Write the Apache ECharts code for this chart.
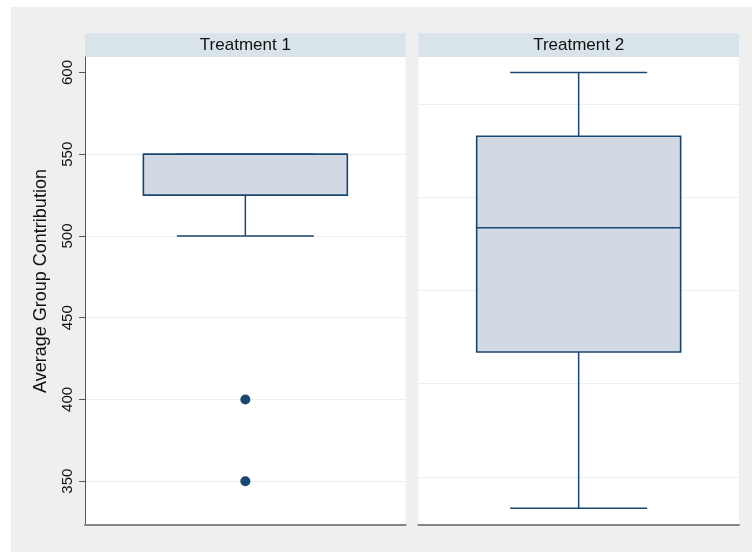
<!DOCTYPE html>
<html>
<head>
<meta charset="utf-8">
<script src="https://cdn.jsdelivr.net/npm/echarts@6/dist/echarts.min.js"></script>
<style>
  html, body { margin: 0; padding: 0; background: #fff; }
  #chart { width: 752px; height: 552px; }
</style>
</head>
<body>
<div id="chart"></div>
<script>
// Panel titles
const panels = ['Treatment 1', 'Treatment 2'];
const yTitle = 'Average Group Contribution';
// Box summaries: [lower whisker, Q1, median, Q3, upper whisker]
const boxT1 = [500, 525, 550, 550, 550];
const boxT2 = [333.5, 429, 505, 561, 600];
// Points beyond the whiskers
const outliersT1 = [400, 350];
// Y axis tick labels (left panel)
const yTicks = [350, 400, 450, 500, 550, 600];
// Horizontal reference lines in each panel
const gridLinesT1 = [350, 400, 450, 500, 550];
const gridLinesT2 = [352.6, 409.7, 466.7, 523.8, 580.8];

const Y_MIN = 323.5, Y_MAX = 609.5;
const NAVY = '#1a476f';
const BOX_FILL = '#d2d9e2';
const GRID_LINE = '#e9f0f2';
const STRIP = '#d8e4ea';
const FONT = '"Liberation Sans", Arial, Helvetica, sans-serif';

const PLOT_TOP = 57, PLOT_H = 467.5, PLOT_W = 320.7;
const LEFT1 = 85, LEFT2 = 418.3;

function renderBox(params, api) {
  const x = api.value(0);
  const lo = api.coord([x, api.value(1)]);
  const q1 = api.coord([x, api.value(2)]);
  const md = api.coord([x, api.value(3)]);
  const q3 = api.coord([x, api.value(4)]);
  const hi = api.coord([x, api.value(5)]);
  const band = api.size([1, 0])[0];
  const bw = band * 0.636, cw = band * 0.427;
  const cx = md[0];
  const ls = { stroke: NAVY, lineWidth: 1.5, fill: null };
  return {
    type: 'group',
    children: [
      { type: 'line', shape: { x1: cx, y1: hi[1], x2: cx, y2: q3[1] }, style: ls },
      { type: 'line', shape: { x1: cx, y1: q1[1], x2: cx, y2: lo[1] }, style: ls },
      { type: 'line', shape: { x1: cx - cw / 2, y1: hi[1], x2: cx + cw / 2, y2: hi[1] }, style: ls },
      { type: 'line', shape: { x1: cx - cw / 2, y1: lo[1], x2: cx + cw / 2, y2: lo[1] }, style: ls },
      { type: 'rect', shape: { x: cx - bw / 2, y: q3[1], width: bw, height: q1[1] - q3[1] },
        style: { fill: BOX_FILL, stroke: NAVY, lineWidth: 1.6 } },
      { type: 'line', shape: { x1: cx - bw / 2, y1: md[1], x2: cx + bw / 2, y2: md[1] },
        style: { stroke: NAVY, lineWidth: 1.6 } }
    ]
  };
}

function refLines(values) {
  return {
    silent: true,
    z: 0,
    symbol: 'none',
    label: { show: false },
    lineStyle: { color: GRID_LINE, width: 1, type: 'solid' },
    emphasis: { disabled: true },
    animation: false,
    data: values.map(v => ({ yAxis: v }))
  };
}

const chart = echarts.init(document.getElementById('chart'), null, { renderer: 'canvas' });

const option = {
  animation: false,
  backgroundColor: '#ffffff',
  graphic: [
    { type: 'rect', z: -100, shape: { x: 11, y: 7, width: 741, height: 545 }, style: { fill: '#efefef' } },
    { type: 'rect', shape: { x: LEFT1, y: 33.3, width: PLOT_W, height: 23.7 }, style: { fill: STRIP } },
    { type: 'rect', shape: { x: LEFT2, y: 33.3, width: PLOT_W, height: 23.7 }, style: { fill: STRIP } },
    { type: 'text', x: LEFT1 + PLOT_W / 2, y: 45.3,
      style: { text: panels[0], fill: '#111', font: '17px ' + FONT, align: 'center', verticalAlign: 'middle' } },
    { type: 'text', x: LEFT2 + PLOT_W / 2, y: 45.3,
      style: { text: panels[1], fill: '#111', font: '17px ' + FONT, align: 'center', verticalAlign: 'middle' } },
    { type: 'text', x: 41, y: 281, rotation: Math.PI / 2,
      style: { text: yTitle, fill: '#111', font: '18px ' + FONT, align: 'center', verticalAlign: 'middle' } }
  ],
  grid: [
    { left: LEFT1, top: PLOT_TOP, width: PLOT_W, height: PLOT_H, show: true, backgroundColor: '#fff', borderWidth: 0, containLabel: false },
    { left: LEFT2, top: PLOT_TOP, width: PLOT_W, height: PLOT_H, show: true, backgroundColor: '#fff', borderWidth: 0, containLabel: false }
  ],
  xAxis: [0, 1].map(i => ({
    type: 'category',
    gridIndex: i,
    data: [panels[i]],
    boundaryGap: true,
    axisLine: { show: true, lineStyle: { color: '#858585', width: 2 } },
    axisTick: { show: false },
    axisLabel: { show: false },
    splitLine: { show: false }
  })),
  yAxis: [
    {
      type: 'value', gridIndex: 0, min: Y_MIN, max: Y_MAX,
      axisLine: { show: true, lineStyle: { color: '#555', width: 1 } },
      axisTick: { show: true, length: 6, customValues: yTicks, lineStyle: { color: '#555', width: 1 } },
      axisLabel: { show: true, customValues: yTicks, rotate: 90, margin: 10, color: '#111', fontSize: 15, fontFamily: FONT },
      splitLine: { show: false }
    },
    {
      type: 'value', gridIndex: 1, min: Y_MIN, max: Y_MAX,
      axisLine: { show: false },
      axisTick: { show: false },
      axisLabel: { show: false },
      splitLine: { show: false }
    }
  ],
  series: [
    {
      type: 'scatter', xAxisIndex: 0, yAxisIndex: 0, z: 1, silent: true,
      symbolSize: 0, data: [], markLine: refLines(gridLinesT1)
    },
    {
      type: 'scatter', xAxisIndex: 1, yAxisIndex: 1, z: 1, silent: true,
      symbolSize: 0, data: [], markLine: refLines(gridLinesT2)
    },
    {
      type: 'custom', xAxisIndex: 0, yAxisIndex: 0, z: 3,
      renderItem: renderBox,
      encode: { x: 0, y: [1, 2, 3, 4, 5] },
      data: [[0].concat(boxT1)]
    },
    {
      type: 'custom', xAxisIndex: 1, yAxisIndex: 1, z: 3,
      renderItem: renderBox,
      encode: { x: 0, y: [1, 2, 3, 4, 5] },
      data: [[0].concat(boxT2)]
    },
    {
      type: 'scatter', xAxisIndex: 0, yAxisIndex: 0, z: 4,
      symbol: 'circle', symbolSize: 10,
      itemStyle: { color: NAVY, opacity: 1 },
      data: outliersT1.map(v => [0, v])
    }
  ]
};

chart.setOption(option);
</script>
</body>
</html>
